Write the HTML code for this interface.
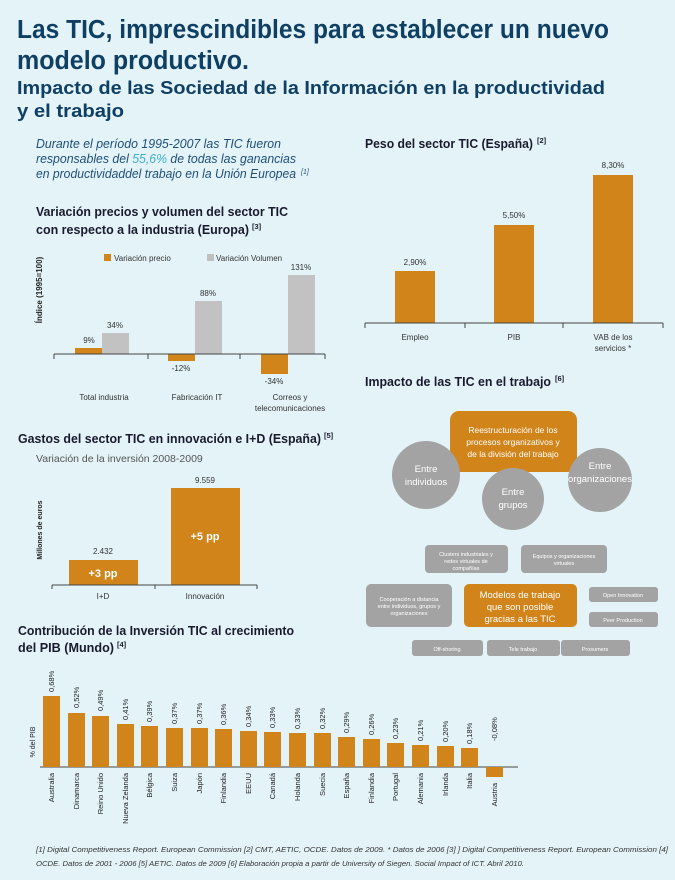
<!DOCTYPE html>
<html><head><meta charset="utf-8"><style>
html,body{margin:0;padding:0;background:#e3f3f8;}
svg{display:block;font-family:"Liberation Sans",sans-serif;}
</style></head><body>
<svg width="675" height="880" viewBox="0 0 675 880" xmlns="http://www.w3.org/2000/svg">
<rect width="675" height="880" fill="#e3f3f8"/>
<g fill="#0f3f63" font-weight="bold">
<text x="17" y="38" font-size="25.5" textLength="592" lengthAdjust="spacingAndGlyphs">Las TIC, imprescindibles para establecer un nuevo</text>
<text x="17" y="69" font-size="25.5" textLength="232" lengthAdjust="spacingAndGlyphs">modelo productivo.</text>
<text x="17" y="94" font-size="18.5" textLength="588" lengthAdjust="spacingAndGlyphs">Impacto de las Sociedad de la Información en la productividad</text>
<text x="17" y="117" font-size="18.5" textLength="107" lengthAdjust="spacingAndGlyphs">y el trabajo</text>
</g>
<g fill="#1e4e78" font-size="12.5" font-style="italic">
<text x="36" y="148" textLength="245" lengthAdjust="spacingAndGlyphs">Durante el período 1995-2007 las TIC fueron</text>
<text x="36" y="163" textLength="260" lengthAdjust="spacingAndGlyphs">responsables del <tspan fill="#3fb0c8">55,6%</tspan> de todas las ganancias</text>
<text x="36" y="178" textLength="260" lengthAdjust="spacingAndGlyphs">en productividaddel trabajo en la Unión Europea</text>
<text x="301" y="174" font-size="7">[1]</text>
</g>
<!-- Chart 1 -->
<g fill="#1a1a2e" font-weight="bold" font-size="12.5">
<text x="36" y="216" textLength="252" lengthAdjust="spacingAndGlyphs">Variación precios y volumen del sector TIC</text>
<text x="36" y="234" textLength="213" lengthAdjust="spacingAndGlyphs">con respecto a la industria (Europa)</text>
<text x="252" y="229" font-size="7.5">[3]</text>
</g>
<rect x="104" y="254" width="7" height="7" fill="#d0841a"/>
<text x="114" y="261" font-size="8" fill="#333">Variación precio</text>
<rect x="207" y="254" width="7" height="7" fill="#c0c0c0"/>
<text x="216" y="261" font-size="8" fill="#333">Variación Volumen</text>
<text transform="translate(42,290) rotate(-90)" text-anchor="middle" font-size="8" fill="#222" font-weight="bold">Índice (1995=100)</text>
<g fill="#d0841a">
<rect x="75" y="348" width="27" height="6"/>
<rect x="168" y="354" width="27" height="7"/>
<rect x="261" y="354" width="27" height="20"/>
</g>
<g fill="#c2c2c2">
<rect x="102" y="333" width="27" height="21"/>
<rect x="195" y="301" width="27" height="53"/>
<rect x="288" y="275" width="27" height="79"/>
</g>
<path d="M54 354H325M54 354v5M148 354v5M240 354v5M325 354v5" stroke="#444" stroke-width="1" fill="none"/>
<g font-size="8" fill="#333" text-anchor="middle">
<text x="89" y="343">9%</text><text x="115" y="328">34%</text>
<text x="208" y="296">88%</text><text x="301" y="270">131%</text>
<text x="181" y="371">-12%</text><text x="274" y="384">-34%</text>
<text x="104" y="400">Total industria</text><text x="197" y="400">Fabricación IT</text>
<text x="290" y="400">Correos y</text><text x="290" y="411">telecomunicaciones</text>
</g>
<!-- Chart 2 -->
<text x="365" y="148" font-size="12.5" font-weight="bold" fill="#1a1a2e" textLength="168" lengthAdjust="spacingAndGlyphs">Peso del sector TIC (España)</text>
<text x="537" y="143" font-size="7.5" font-weight="bold" fill="#1a1a2e">[2]</text>
<g fill="#d0841a">
<rect x="395" y="271" width="40" height="52"/>
<rect x="494" y="225" width="40" height="98"/>
<rect x="593" y="175" width="40" height="148"/>
</g>
<path d="M365 323H663M365 323v5M465 323v5M563 323v5M663 323v5" stroke="#444" fill="none"/>
<g font-size="8" fill="#333" text-anchor="middle">
<text x="415" y="265">2,90%</text><text x="514" y="218">5,50%</text><text x="613" y="168">8,30%</text>
<text x="415" y="340">Empleo</text><text x="514" y="340">PIB</text>
<text x="613" y="340">VAB de los</text><text x="613" y="351">servicios *</text>
</g>
<!-- Diagram -->
<text x="365" y="386" font-size="12.5" font-weight="bold" fill="#1a1a2e" textLength="186" lengthAdjust="spacingAndGlyphs">Impacto de las TIC en el trabajo</text>
<text x="555" y="381" font-size="7.5" font-weight="bold" fill="#1a1a2e">[6]</text>
<rect x="450" y="411" width="127" height="61" rx="9" fill="#d0841a"/>
<circle cx="426" cy="475" r="34" fill="#a3a3a3"/>
<circle cx="600" cy="480" r="32" fill="#a3a3a3"/>
<circle cx="513" cy="499" r="31" fill="#a3a3a3"/>
<g fill="#fff" font-size="8.5" text-anchor="middle">
<text x="513" y="433">Reestructuración de los</text>
<text x="513" y="445">procesos organizativos y</text>
<text x="513" y="457">de la división del trabajo</text>
</g>
<g fill="#fff" font-size="9.5" text-anchor="middle">
<text x="426" y="472">Entre</text><text x="426" y="485">individuos</text>
<text x="600" y="469">Entre</text><text x="600" y="482">organizaciones</text>
<text x="513" y="495">Entre</text><text x="513" y="508">grupos</text>
</g>
<g fill="#a3a3a3">
<rect x="425" y="545" width="83" height="28" rx="4"/>
<rect x="521" y="545" width="86" height="28" rx="4"/>
<rect x="366" y="584" width="86" height="43" rx="5"/>
<rect x="589" y="587" width="69" height="15" rx="3"/>
<rect x="589" y="612" width="69" height="15" rx="3"/>
<rect x="412" y="640" width="71" height="16" rx="3"/>
<rect x="487" y="640" width="73" height="16" rx="3"/>
<rect x="561" y="640" width="69" height="16" rx="3"/>
</g>
<rect x="464" y="584" width="113" height="43" rx="5" fill="#d0841a"/>
<g fill="#fff" font-size="5.5" text-anchor="middle">
<text x="466" y="556">Clusters industriales y</text><text x="466" y="563">redes virtuales de</text><text x="466" y="570">compañías</text>
<text x="564" y="558">Equipos y organizaciones</text><text x="564" y="565">virtuales</text>
<text x="409" y="601">Cooperación a distancia</text><text x="409" y="608">entre individuos, grupos y</text><text x="409" y="615">organizaciones</text>
<text x="623" y="597">Open Innovation</text><text x="623" y="622">Peer Production</text>
<text x="447" y="651">Off-shoring</text><text x="523" y="651">Tele trabajo</text><text x="595" y="651">Prosumers</text>
</g>
<g fill="#fff" font-size="9.5" text-anchor="middle">
<text x="520" y="598">Modelos de trabajo</text><text x="520" y="610">que son posible</text><text x="520" y="622">gracias a las TIC</text>
</g>
<!-- Chart 4 -->
<text x="18" y="443" font-size="12.5" font-weight="bold" fill="#1a1a2e" textLength="303" lengthAdjust="spacingAndGlyphs">Gastos del sector TIC en innovación e I+D (España)</text>
<text x="324" y="438" font-size="7.5" font-weight="bold" fill="#1a1a2e">[5]</text>
<text x="36" y="462" font-size="10.5" fill="#555">Variación de la inversión 2008-2009</text>
<text transform="translate(42,530) rotate(-90)" text-anchor="middle" font-size="7" fill="#222" font-weight="bold">Millones de euros</text>
<rect x="69" y="560" width="69" height="25" fill="#d0841a"/>
<rect x="171" y="488" width="69" height="97" fill="#d0841a"/>
<path d="M52 585H257M52 585v4M155 585v4M257 585v4" stroke="#444" fill="none"/>
<g font-size="8" fill="#333" text-anchor="middle">
<text x="103" y="554">2.432</text><text x="205" y="483">9.559</text>
<text x="103" y="599">I+D</text><text x="205" y="599">Innovación</text>
</g>
<g font-size="11" fill="#fff" font-weight="bold" text-anchor="middle">
<text x="103" y="577">+3 pp</text><text x="205" y="540">+5 pp</text>
</g>
<!-- Chart 5 -->
<g fill="#1a1a2e" font-weight="bold" font-size="12.5">
<text x="18" y="635" textLength="276" lengthAdjust="spacingAndGlyphs">Contribución de la Inversión TIC al crecimiento</text>
<text x="18" y="652" textLength="96" lengthAdjust="spacingAndGlyphs">del PIB (Mundo)</text>
<text x="117" y="647" font-size="7.5">[4]</text>
</g>
<text transform="translate(35,742) rotate(-90)" text-anchor="middle" font-size="7" fill="#222">% del PIB</text>
<path d="M40 767H518" stroke="#444" fill="none"/>
<g font-size="7.5" fill="#333" font-style="italic">
<text x="36" y="852" textLength="632" lengthAdjust="spacingAndGlyphs">[1] Digital Competitiveness Report. European Commission [2] CMT, AETIC, OCDE. Datos de 2009. * Datos de 2006  [3] ] Digital Competitiveness Report. European Commission [4]</text>
<text x="36" y="866" textLength="488" lengthAdjust="spacingAndGlyphs">OCDE. Datos de 2001 - 2006  [5] AETIC. Datos de 2009 [6]  Elaboración propia a partir de University of Siegen. Social Impact of ICT. Abril 2010.</text>
</g>
<g font-size="7.5" fill="#222">
<rect x="43" y="696" width="17" height="71" fill="#d0841a"/><text transform="translate(54,692) rotate(-90)">0,68%</text><text transform="translate(54,773) rotate(-90)" text-anchor="end">Australia</text>
<rect x="68" y="713" width="17" height="54" fill="#d0841a"/><text transform="translate(79,708) rotate(-90)">0,52%</text><text transform="translate(79,773) rotate(-90)" text-anchor="end">Dinamarca</text>
<rect x="92" y="716" width="17" height="51" fill="#d0841a"/><text transform="translate(103,711) rotate(-90)">0,49%</text><text transform="translate(103,773) rotate(-90)" text-anchor="end">Reino Unido</text>
<rect x="117" y="724" width="17" height="43" fill="#d0841a"/><text transform="translate(128,720) rotate(-90)">0,41%</text><text transform="translate(128,773) rotate(-90)" text-anchor="end">Nueva Zelanda</text>
<rect x="141" y="726" width="17" height="41" fill="#d0841a"/><text transform="translate(152,722) rotate(-90)">0,39%</text><text transform="translate(152,773) rotate(-90)" text-anchor="end">Bélgica</text>
<rect x="166" y="728" width="17" height="39" fill="#d0841a"/><text transform="translate(177,724) rotate(-90)">0,37%</text><text transform="translate(177,773) rotate(-90)" text-anchor="end">Suiza</text>
<rect x="191" y="728" width="17" height="39" fill="#d0841a"/><text transform="translate(202,724) rotate(-90)">0,37%</text><text transform="translate(202,773) rotate(-90)" text-anchor="end">Japón</text>
<rect x="215" y="729" width="17" height="38" fill="#d0841a"/><text transform="translate(226,725) rotate(-90)">0,36%</text><text transform="translate(226,773) rotate(-90)" text-anchor="end">Finlandia</text>
<rect x="240" y="731" width="17" height="36" fill="#d0841a"/><text transform="translate(251,727) rotate(-90)">0,34%</text><text transform="translate(251,773) rotate(-90)" text-anchor="end">EEUU</text>
<rect x="264" y="732" width="17" height="35" fill="#d0841a"/><text transform="translate(275,728) rotate(-90)">0,33%</text><text transform="translate(275,773) rotate(-90)" text-anchor="end">Canadá</text>
<rect x="289" y="733" width="17" height="34" fill="#d0841a"/><text transform="translate(300,729) rotate(-90)">0,33%</text><text transform="translate(300,773) rotate(-90)" text-anchor="end">Holanda</text>
<rect x="314" y="733" width="17" height="34" fill="#d0841a"/><text transform="translate(325,729) rotate(-90)">0,32%</text><text transform="translate(325,773) rotate(-90)" text-anchor="end">Suecia</text>
<rect x="338" y="737" width="17" height="30" fill="#d0841a"/><text transform="translate(349,733) rotate(-90)">0,29%</text><text transform="translate(349,773) rotate(-90)" text-anchor="end">España</text>
<rect x="363" y="739" width="17" height="28" fill="#d0841a"/><text transform="translate(374,735) rotate(-90)">0,26%</text><text transform="translate(374,773) rotate(-90)" text-anchor="end">Finlandia</text>
<rect x="387" y="743" width="17" height="24" fill="#d0841a"/><text transform="translate(398,739) rotate(-90)">0,23%</text><text transform="translate(398,773) rotate(-90)" text-anchor="end">Portugal</text>
<rect x="412" y="745" width="17" height="22" fill="#d0841a"/><text transform="translate(423,741) rotate(-90)">0,21%</text><text transform="translate(423,773) rotate(-90)" text-anchor="end">Alemania</text>
<rect x="437" y="746" width="17" height="21" fill="#d0841a"/><text transform="translate(448,742) rotate(-90)">0,20%</text><text transform="translate(448,773) rotate(-90)" text-anchor="end">Irlanda</text>
<rect x="461" y="748" width="17" height="19" fill="#d0841a"/><text transform="translate(472,744) rotate(-90)">0,18%</text><text transform="translate(472,773) rotate(-90)" text-anchor="end">Italia</text>
<rect x="486" y="767" width="17" height="10" fill="#d0841a"/><text transform="translate(497,741) rotate(-90)">-0,08%</text><text transform="translate(497,783) rotate(-90)" text-anchor="end">Austria</text>
</g>
</svg>
</body></html>
